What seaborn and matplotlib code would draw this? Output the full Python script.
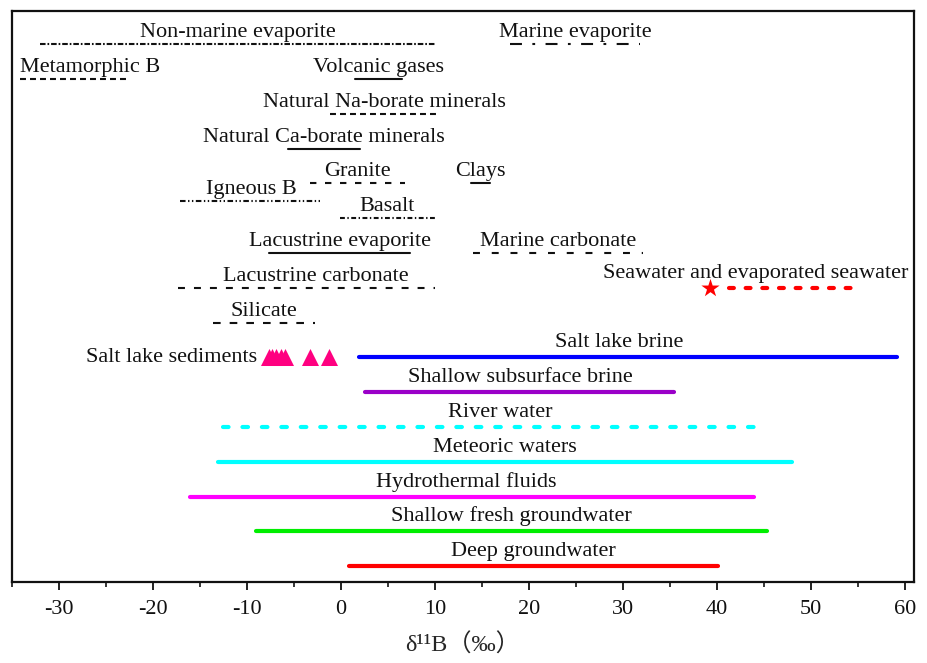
import matplotlib
matplotlib.use("Agg")
import matplotlib.pyplot as plt
from matplotlib.ticker import MultipleLocator
import numpy as np
import pandas as pd
import seaborn as sns

# ---- boron isotope ranges (delta 11B, permil) ----
names = [
    "Non-marine evaporite", "Marine evaporite", "Metamorphic B", "Volcanic gases",
    "Natural Na-borate minerals", "Natural Ca-borate minerals", "Granite", "Clays",
    "Igneous B", "Basalt", "Lacustrine evaporite", "Marine carbonate",
    "Lacustrine carbonate", "Seawater and evaporated seawater", "Silicate",
    "Salt lake brine", "Shallow subsurface brine", "River water", "Meteoric waters",
    "Hydrothermal fluids", "Shallow fresh groundwater", "Deep groundwater",
]
lows = [-32.0, 18.0, -34.2, 1.5, -1.2, -5.6, -3.3, 13.8, -17.1, -0.1, -7.6, 14.1,
        -17.3, 41.3, -13.6, 1.9, 2.6, -12.6, -13.1, -16.1, -9.0, 0.9]
highs = [10.0, 31.8, -22.5, 6.5, 10.5, 2.0, 6.8, 15.9, -2.0, 10.0, 7.4, 32.2,
         10.0, 54.7, -2.8, 59.2, 35.5, 44.9, 48.0, 44.0, 45.3, 40.1]
rows = [0, 0, 1, 1, 2, 3, 4, 4, 4.5, 5, 6, 6, 7, 7, 8, 9, 10, 11, 12, 13, 14, 15]

# salt lake sediment samples
sediment_label = "Salt lake sediments"
sediment_values = [-7.7, -7.3, -6.9, -6.4, -5.9, -3.3, -1.3]
sediment_row = 9

# seawater composition
seawater_value = 39.3

xticks = [-30, -20, -10, 0, 10, 20, 30, 40, 50, 60]

# ---- line styles ----
BLACK = "#111111"
styles = {
    "Non-marine evaporite": dict(color=BLACK, lw=1.5, ls=(0, (4.0, 1.4, 1.2, 1.4))),
    "Marine evaporite": dict(color=BLACK, lw=1.5, ls=(0, (8.6, 7.5, 2.0, 7.5))),
    "Metamorphic B": dict(color=BLACK, lw=1.5, ls=(0, (4.3, 2.9))),
    "Volcanic gases": dict(color=BLACK, lw=1.5, ls="-"),
    "Natural Na-borate minerals": dict(color=BLACK, lw=1.5, ls=(0, (4.3, 2.9))),
    "Natural Ca-borate minerals": dict(color=BLACK, lw=1.5, ls="-"),
    "Granite": dict(color=BLACK, lw=1.5, ls=(0, (4.6, 6.2))),
    "Clays": dict(color=BLACK, lw=1.5, ls="-"),
    "Igneous B": dict(color=BLACK, lw=1.5, ls=(0, (4.0, 1.8, 1.0, 1.8, 1.0, 1.8))),
    "Basalt": dict(color=BLACK, lw=1.5, ls=(0, (3.5, 1.8, 1.0, 1.8))),
    "Lacustrine evaporite": dict(color=BLACK, lw=1.5, ls="-"),
    "Marine carbonate": dict(color=BLACK, lw=1.5, ls=(0, (5.0, 8.5))),
    "Lacustrine carbonate": dict(color=BLACK, lw=1.5, ls=(0, (5.0, 6.5))),
    "Seawater and evaporated seawater": dict(color="#ff0000", lw=3.0, ls=(0, (3.5, 8.5))),
    "Silicate": dict(color=BLACK, lw=1.5, ls=(0, (5.5, 6.5))),
    "Salt lake brine": dict(color="#0000ff", lw=3.0, ls="-"),
    "Shallow subsurface brine": dict(color="#9a00c8", lw=3.0, ls="-"),
    "River water": dict(color="#00ffff", lw=3.0, ls=(0, (4.0, 10.0))),
    "Meteoric waters": dict(color="#00ffff", lw=3.0, ls="-"),
    "Hydrothermal fluids": dict(color="#ff00ff", lw=3.0, ls="-"),
    "Shallow fresh groundwater": dict(color="#00ee00", lw=3.0, ls="-"),
    "Deep groundwater": dict(color="#ff0000", lw=3.0, ls="-"),
}

# label anchors that are not centred on their bar
label_x = {
    "Metamorphic B": -26.7,
    "Lacustrine carbonate": -2.7,
    "Seawater and evaporated seawater": 44.2,
    "Salt lake brine": 29.6,
    "River water": 17.0,
    "Hydrothermal fluids": 13.3,
}

sns.set_theme(style="white")
plt.rcParams["font.family"] = ["Liberation Serif", "Noto Sans CJK SC"]
plt.rcParams["lines.scale_dashes"] = False
plt.rcParams["axes.edgecolor"] = "#111111"

fig = plt.figure(figsize=(9.27, 6.63), dpi=100)
ax = fig.add_axes([0.013, 0.122, 0.973, 0.861])

ROW_PX = 34.73  # pixel height of one row, used for label offsets
FS = 16

for name, lo, hi, r in zip(names, lows, highs, rows):
    st = styles[name]
    seg = pd.DataFrame({"x": [lo, hi], "y": [r, r]})
    sns.lineplot(data=seg, x="x", y="y", ax=ax, estimator=None, sort=False,
                 color=st["color"], linewidth=st["lw"], linestyle=st["ls"],
                 solid_capstyle="round", dash_capstyle="round" if st["lw"] > 2 else "butt")
    off = (10 if st["lw"] > 2 else 7) / ROW_PX
    lx = label_x.get(name, (lo + hi) / 2)
    ax.text(lx, r - off, name, ha="center", va="baseline", fontsize=FS, color="#111111")

# seawater star
sns.scatterplot(x=[seawater_value], y=[rows[names.index("Seawater and evaporated seawater")]],
                ax=ax, marker="*", s=190, color="#ff0000", edgecolor="#ff0000", linewidth=0,
                zorder=5)

# salt lake sediment triangles
sns.scatterplot(x=sediment_values, y=[sediment_row] * len(sediment_values), ax=ax,
                marker="^", s=150, color="#ff0080", edgecolor="#ff0080", linewidth=0,
                zorder=5)
ax.text(-8.9, sediment_row + 5 / ROW_PX, sediment_label, ha="right", va="baseline",
        fontsize=FS, color="#111111")

ax.set_xlim(-35, 61)
ax.set_ylim(15.46, -0.95)
ax.set_xticks(xticks)
ax.set_xticklabels([str(t) for t in xticks])
ax.xaxis.set_minor_locator(MultipleLocator(5))
ax.set_yticks([])
ax.set_ylabel("")
ax.set_xlabel("δ¹¹B（‰）", fontsize=17.5, labelpad=10,
              family=["Liberation Serif", "Noto Sans CJK SC"])
ax.tick_params(axis="x", which="major", direction="out", length=6, width=1.3,
               labelsize=FS, pad=7, colors="#111111", bottom=True)
ax.tick_params(axis="x", which="minor", direction="out", length=3.5, width=1.3,
               bottom=True)
for sp in ax.spines.values():
    sp.set_linewidth(1.6)
    sp.set_visible(True)

fig.savefig("out.png", dpi=100)
